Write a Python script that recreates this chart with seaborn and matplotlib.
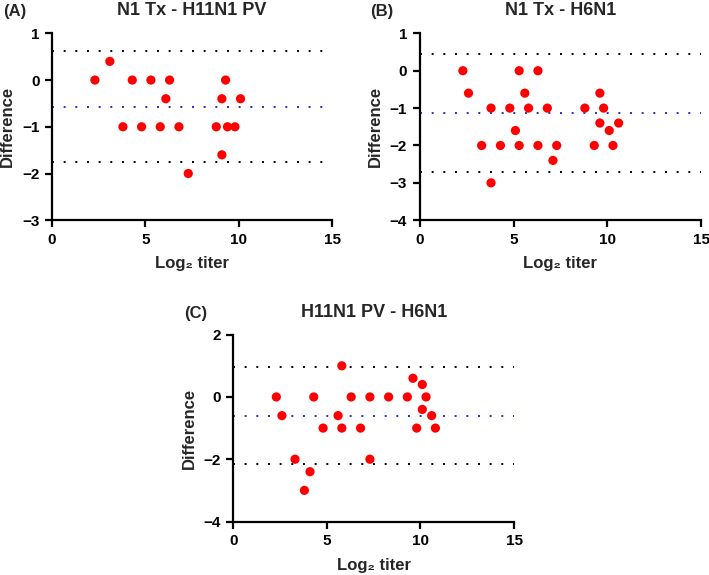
import numpy as np
import pandas as pd
import matplotlib
matplotlib.use("Agg")
import matplotlib.pyplot as plt
import seaborn as sns

## Bland-Altman style difference plots

# (A) N1 Tx - H11N1 PV
a_x = [2.3, 3.1, 4.3, 5.3, 6.3, 6.1, 3.8, 4.8, 5.8, 6.8, 7.3, 8.8, 9.1, 9.3, 9.1, 9.4, 9.8, 10.1]
a_y = [0, 0.4, 0, 0, 0, -0.4, -1, -1, -1, -1, -2, -1, -0.4, 0, -1.6, -1, -1, -0.4]
a_lines = [0.63, -0.57, -1.76]

# (B) N1 Tx - H6N1
b_x = [2.3, 2.6, 3.8, 3.3, 3.8, 4.3, 4.8, 5.1, 5.3, 5.3, 5.6, 5.8, 6.3, 6.3, 6.8, 7.1, 7.3,
       8.8, 9.3, 9.6, 9.6, 9.8, 10.1, 10.3, 10.6]
b_y = [0, -0.6, -1, -2, -3, -2, -1, -1.6, 0, -2, -0.6, -1, 0, -2, -1, -2.4, -2,
       -1, -2, -0.6, -1.4, -1, -1.6, -2, -1.4]
b_lines = [0.45, -1.12, -2.7]

# (C) H11N1 PV - H6N1
c_x = [2.3, 2.6, 3.3, 4.1, 3.8, 4.3, 4.8, 5.6, 5.8, 5.8, 6.3, 6.8, 7.3, 7.3, 8.3, 9.3,
       9.6, 9.8, 10.1, 10.1, 10.3, 10.6, 10.8]
c_y = [0, -0.6, -2, -2.4, -3, 0, -1, -0.6, 1, -1, 0, -1, 0, -2, 0, 0,
       0.6, -1, 0.4, -0.4, 0, -0.6, -1]
c_lines = [0.96, -0.6, -2.14]

panels = [
    ("(A)", "N1 Tx - H11N1 PV", a_x, a_y, a_lines, (-3, 1), [1, 0, -1, -2, -3]),
    ("(B)", "N1 Tx - H6N1", b_x, b_y, b_lines, (-4, 1), [1, 0, -1, -2, -3, -4]),
    ("(C)", "H11N1 PV - H6N1", c_x, c_y, c_lines, (-4, 2), [2, 0, -2, -4]),
]

# axes rectangles in figure fractions
rects = [
    [0.0733, 0.617, 0.395, 0.325],
    [0.592, 0.617, 0.397, 0.325],
    [0.329, 0.093, 0.396, 0.325],
]

sns.set_style("ticks")
fams = ["Liberation Sans", "DejaVu Sans"]
plt.rcParams["font.family"] = fams
plt.rcParams["font.weight"] = "bold"
plt.rcParams["axes.unicode_minus"] = True

fig = plt.figure(figsize=(7.09, 5.75), dpi=100)

for (tag, title, xs, ys, lines, ylim, yticks), rect in zip(panels, rects):
    ax = fig.add_axes(rect)
    df = pd.DataFrame({"x": xs, "y": ys})

    # limits of agreement and mean difference
    for i, val in enumerate(lines):
        col = "#2a2ac8" if i == 1 else "black"
        ax.plot([0, 15], [val, val], color=col, lw=1.4, ls=(0, (1, 5)), zorder=1)

    sns.scatterplot(data=df, x="x", y="y", ax=ax, color="#ff0000", s=44,
                    edgecolor="none", zorder=3, clip_on=False)

    ax.set_xlim(0, 15)
    ax.set_ylim(*ylim)
    ax.set_xticks([0, 5, 10, 15])
    ax.set_yticks(yticks)
    sns.despine(ax=ax)
    for sp in ["left", "bottom"]:
        ax.spines[sp].set_linewidth(1.6)
        ax.spines[sp].set_color("black")
    ax.tick_params(direction="out", length=5, width=1.6, labelsize=11, colors="black", pad=4)
    for lbl in ax.get_xticklabels() + ax.get_yticklabels():
        lbl.set_fontweight("bold")

    ax.set_xlabel("Log₂ titer", fontsize=12, fontweight="bold", labelpad=7)
    ax.set_ylabel("Difference", fontsize=12, fontweight="bold", labelpad=5)
    ax.set_title(title, fontsize=13, fontweight="bold", pad=13)
    ax.text(-0.175, 1.115, tag, transform=ax.transAxes, fontsize=12, fontweight="bold",
            ha="left", va="center")

fig.savefig("out.png", dpi=100)
